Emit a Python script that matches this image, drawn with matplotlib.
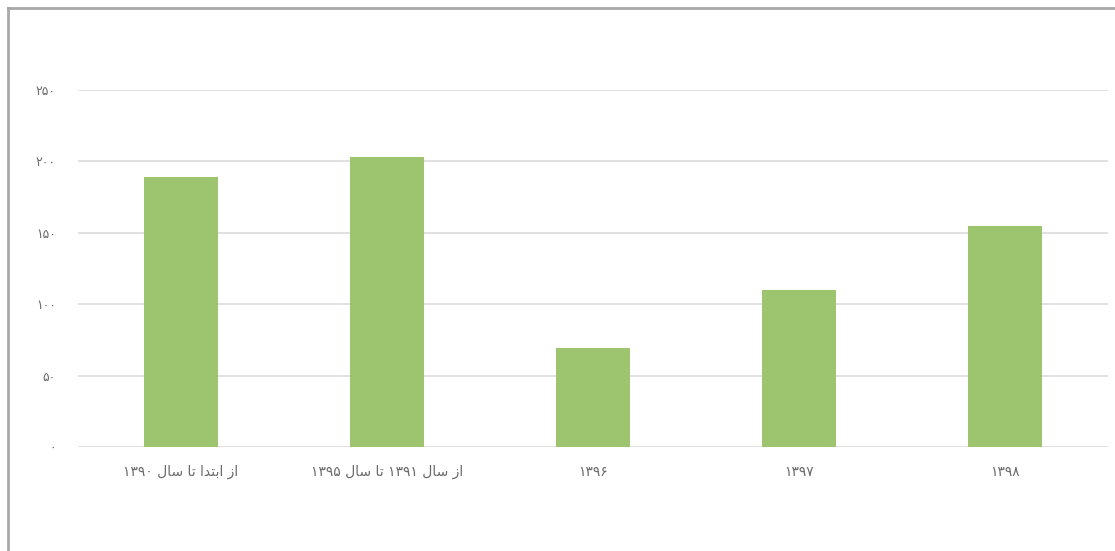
import matplotlib
matplotlib.use("Agg")
import matplotlib.pyplot as plt
from matplotlib.lines import Line2D

# ---- data ----
categories = ["از ابتدا تا سال ۱۳۹۰", "از سال ۱۳۹۱ تا سال ۱۳۹۵", "۱۳۹۶", "۱۳۹۷", "۱۳۹۸"]
values = [189, 203, 69, 110, 155]
y_ticks = [0, 50, 100, 150, 200, 250]

# ---- minimal Arabic/Persian shaping (matplotlib has no bidi/shaping) ----
# letter: (isolated, final, initial, medial); None for non-joining-left
FORMS = {
    "ا": ("\uFE8D", "\uFE8E", None, None),
    "ز": ("\uFEAF", "\uFEB0", None, None),
    "د": ("\uFEA9", "\uFEAA", None, None),
    "ب": ("\uFE8F", "\uFE90", "\uFE91", "\uFE92"),
    "ت": ("\uFE95", "\uFE96", "\uFE97", "\uFE98"),
    "س": ("\uFEB1", "\uFEB2", "\uFEB3", "\uFEB4"),
    "ل": ("\uFEDD", "\uFEDE", "\uFEDF", "\uFEE0"),
}

def joins_left(ch):
    return ch in FORMS and FORMS[ch][2] is not None

def shape_word(w):
    out = []
    for i, ch in enumerate(w):
        if ch not in FORMS:
            out.append(ch)
            continue
        prev_j = i > 0 and joins_left(w[i - 1])
        next_j = i + 1 < len(w) and w[i + 1] in FORMS and joins_left(ch)
        iso, fin, ini, med = FORMS[ch]
        if prev_j and next_j:
            out.append(med)
        elif prev_j:
            out.append(fin)
        elif next_j:
            out.append(ini)
        else:
            out.append(iso)
    return "".join(out)

PDIG = set("۰۱۲۳۴۵۶۷۸۹")

def visual(text):
    words = text.split(" ")
    vis = []
    for w in words:
        if all(c in PDIG for c in w):
            vis.append(w)
        else:
            vis.append(shape_word(w)[::-1])
    return " ".join(vis[::-1])

def pnum(n):
    return "".join("۰۱۲۳۴۵۶۷۸۹"[int(d)] for d in str(n))

# ---- figure ----
W, H = 1115, 551
fig = plt.figure(figsize=(W / 100, H / 100), dpi=100)
fig.patch.set_facecolor("white")

left, right, top, bottom = 78, 1108, 90, 447
ax = fig.add_axes([left / W, 1 - bottom / H, (right - left) / W, (bottom - top) / H])

x = list(range(len(categories)))
ax.bar(x, values, width=0.355, color="#9DC46E", zorder=3)
ax.set_xlim(-0.5, len(categories) - 0.5)
ax.set_ylim(0, 250)
ax.set_yticks(y_ticks)
ax.set_yticklabels([pnum(v) for v in y_ticks], fontsize=9, color="#6a6a6a",
                   family=["DejaVu Sans"])
ax.set_xticks(x)
ax.set_xticklabels([visual(c) for c in categories], fontsize=10, color="#6a6a6a",
                   family=["DejaVu Sans"])
ax.yaxis.grid(True, color="#dcdcdc", linewidth=1.2, zorder=0)
ax.set_axisbelow(True)
for s in ax.spines.values():
    s.set_visible(False)
ax.tick_params(axis="both", length=0)
ax.tick_params(axis="x", pad=13)
ax.tick_params(axis="y", pad=16)

# frame lines at top and left
fig.add_artist(Line2D([8 / W, 1], [1 - 8 / H, 1 - 8 / H], color="#a8a8a8", linewidth=2))
fig.add_artist(Line2D([8 / W, 8 / W], [0, 1 - 8 / H], color="#a8a8a8", linewidth=2))

fig.savefig("out.png", dpi=100, facecolor="white")
